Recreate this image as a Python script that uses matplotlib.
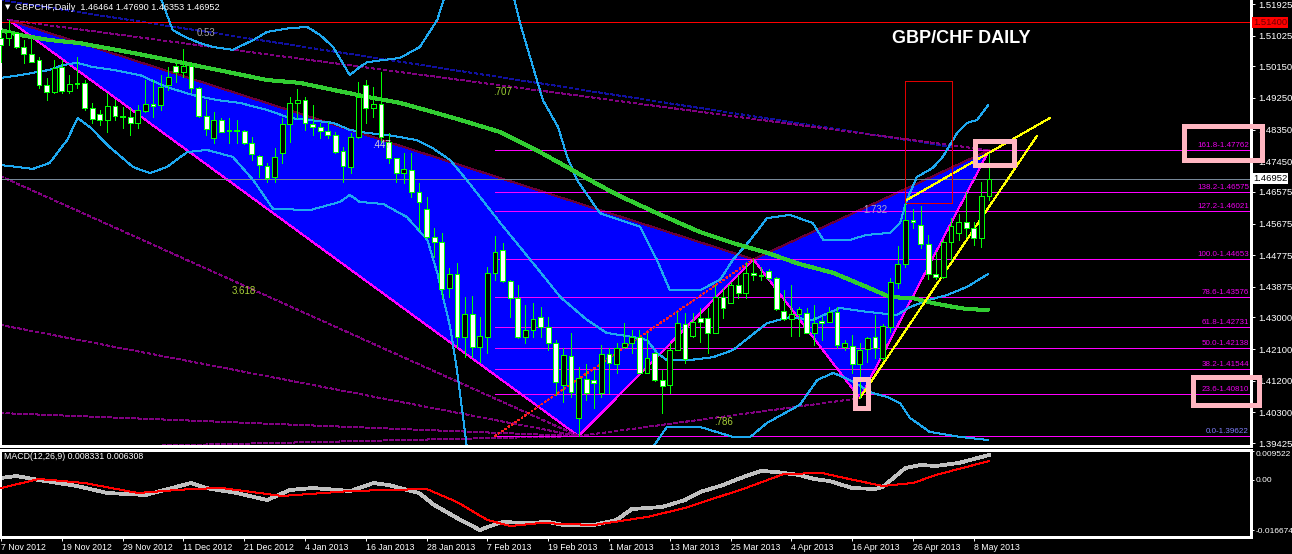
import numpy as np
import pandas as pd
import matplotlib
matplotlib.use("Agg")
import matplotlib.pyplot as plt
from matplotlib.patches import Polygon, Rectangle

plt.rcParams["font.family"] = ["Liberation Sans", "DejaVu Sans"]
plt.rcParams["lines.antialiased"] = False
plt.rcParams["patch.antialiased"] = False

# ---------------- data ----------------
symbol = "GBPCHF,Daily"
title = "GBP/CHF DAILY"
last_quote = [1.46464, 1.47690, 1.46353, 1.46952]

opens = [1.5096, 1.5096, 1.5110, 1.5070, 1.5050, 1.5033, 1.4962, 1.4942, 1.5013, 1.4945,
         1.4965, 1.4968, 1.4896, 1.4879, 1.4862, 1.4902, 1.4874, 1.4871, 1.4854, 1.4888,
         1.4908, 1.4905, 1.4962, 1.5016, 1.4999, 1.5016, 1.4953, 1.4874, 1.4811, 1.4862,
         1.4834, 1.4831, 1.4831, 1.4797, 1.4760, 1.4731, 1.4700, 1.4768, 1.4851, 1.4911,
         1.4919, 1.4851, 1.4842, 1.4831, 1.4820, 1.4774, 1.4728, 1.4814, 1.4962, 1.4896,
         1.4908, 1.4800, 1.4754, 1.4711, 1.4720, 1.4657, 1.4609, 1.4529, 1.4515, 1.4384,
         1.4424, 1.4244, 1.4310, 1.4216, 1.4244, 1.4427, 1.4492, 1.4404, 1.4355, 1.4244,
         1.4264, 1.4301, 1.4273, 1.4227, 1.4108, 1.4190, 1.4014, 1.4125, 1.4122, 1.4085,
         1.4196, 1.4167, 1.4216, 1.4227, 1.4244, 1.4142, 1.4199, 1.4122, 1.4108, 1.4207,
         1.4281, 1.4247, 1.4298, 1.4298, 1.4256, 1.4358, 1.4341, 1.4392, 1.4370, 1.4427,
         1.4421, 1.4432, 1.4412, 1.4319, 1.4296, 1.4310, 1.4313, 1.4256, 1.4290, 1.4287,
         1.4316, 1.4216, 1.4219, 1.4167, 1.4210, 1.4244, 1.4184, 1.4273, 1.4398, 1.4452,
         1.4577, 1.4563, 1.4509, 1.4424, 1.4415, 1.4515, 1.4541, 1.4572, 1.4555, 1.4526,
         1.46464]
highs = [1.5118, 1.5147, 1.5113, 1.5090, 1.5096, 1.5042, 1.4982, 1.5033, 1.5033, 1.4990,
         1.5042, 1.4976, 1.4911, 1.4891, 1.4939, 1.4919, 1.4899, 1.4896, 1.4905, 1.4976,
         1.4976, 1.4990, 1.5013, 1.5027, 1.5064, 1.5025, 1.4956, 1.4919, 1.4885, 1.4868,
         1.4868, 1.4862, 1.4834, 1.4814, 1.4762, 1.4740, 1.4782, 1.4868, 1.4928, 1.4951,
         1.4928, 1.4905, 1.4854, 1.4856, 1.4828, 1.4785, 1.4825, 1.4970, 1.4976, 1.4956,
         1.4999, 1.4825, 1.4754, 1.4768, 1.4768, 1.4683, 1.4643, 1.4555, 1.4541, 1.4441,
         1.4455, 1.4358, 1.4361, 1.4301, 1.4444, 1.4532, 1.4512, 1.4407, 1.4392, 1.4335,
         1.4341, 1.4330, 1.4301, 1.4236, 1.4213, 1.4256, 1.4159, 1.4167, 1.4150, 1.4222,
         1.4213, 1.4227, 1.4284, 1.4264, 1.4264, 1.4256, 1.4202, 1.4150, 1.4227, 1.4316,
         1.4313, 1.4313, 1.4327, 1.4327, 1.4392, 1.4384, 1.4401, 1.4421, 1.4458, 1.44653,
         1.4444, 1.4438, 1.4415, 1.4378, 1.4392, 1.4330, 1.4327, 1.4335, 1.4301, 1.4330,
         1.4330, 1.4236, 1.4250, 1.4227, 1.4244, 1.4307, 1.4281, 1.4412, 1.4503, 1.4626,
         1.4609, 1.4617, 1.4535, 1.4486, 1.4521, 1.4583, 1.4595, 1.4657, 1.4572, 1.4686,
         1.47690]
lows = [1.5027, 1.5076, 1.5067, 1.5025, 1.5027, 1.4953, 1.4919, 1.4939, 1.4939, 1.4939,
        1.4953, 1.4891, 1.4854, 1.4848, 1.4828, 1.4862, 1.4839, 1.4820, 1.4839, 1.4885,
        1.4871, 1.4891, 1.4948, 1.4970, 1.4985, 1.4942, 1.4871, 1.4820, 1.4797, 1.4828,
        1.4797, 1.4797, 1.4794, 1.4748, 1.4700, 1.4686, 1.4686, 1.4740, 1.4800, 1.4868,
        1.4834, 1.4820, 1.4811, 1.4811, 1.4768, 1.4686, 1.4711, 1.4811, 1.4854, 1.4871,
        1.4797, 1.4740, 1.4686, 1.4683, 1.4643, 1.4549, 1.4526, 1.4472, 1.4355, 1.4358,
        1.4216, 1.4187, 1.4187, 1.4173, 1.4199, 1.4407, 1.4401, 1.4301, 1.4241, 1.4227,
        1.4244, 1.4244, 1.4207, 1.4079, 1.4059, 1.4074, 1.39622, 1.4065, 1.4042, 1.4074,
        1.4085, 1.4142, 1.4213, 1.4199, 1.4142, 1.4142, 1.4119, 1.4028, 1.4085, 1.4207,
        1.4170, 1.4244, 1.4230, 1.4199, 1.4256, 1.4298, 1.4341, 1.4355, 1.4355, 1.4407,
        1.4407, 1.4407, 1.4321, 1.4293, 1.4247, 1.4247, 1.4256, 1.4222, 1.4236, 1.4287,
        1.4213, 1.4207, 1.4142, 1.4070, 1.4173, 1.4184, 1.4179, 1.4259, 1.4384, 1.4444,
        1.4555, 1.4498, 1.4410, 1.4410, 1.4412, 1.4464, 1.4521, 1.4529, 1.4506, 1.4500,
        1.46353]
closes = [1.5076, 1.5113, 1.5070, 1.5050, 1.5027, 1.4962, 1.4942, 1.5010, 1.4945, 1.4965,
          1.4968, 1.4896, 1.4865, 1.4862, 1.4902, 1.4874, 1.4871, 1.4854, 1.4891, 1.4908,
          1.4902, 1.4956, 1.4985, 1.4999, 1.5016, 1.4953, 1.4874, 1.4837, 1.4862, 1.4828,
          1.4831, 1.4834, 1.4797, 1.4765, 1.4734, 1.4697, 1.4757, 1.4851, 1.4911, 1.4919,
          1.4854, 1.4842, 1.4831, 1.4820, 1.4771, 1.4731, 1.4814, 1.4928, 1.4896, 1.4908,
          1.4814, 1.4754, 1.4711, 1.4723, 1.4657, 1.4629, 1.4529, 1.4515, 1.4381, 1.4424,
          1.4244, 1.4310, 1.4216, 1.4247, 1.4427, 1.4486, 1.4404, 1.4355, 1.4244, 1.4264,
          1.4296, 1.4273, 1.4227, 1.4116, 1.4193, 1.4088, 1.4128, 1.4085, 1.4113, 1.4196,
          1.4170, 1.4213, 1.4227, 1.4244, 1.4142, 1.4184, 1.4122, 1.4105, 1.4207, 1.4284,
          1.4182, 1.4287, 1.4287, 1.4256, 1.4358, 1.4327, 1.4392, 1.4370, 1.4427, 1.4421,
          1.4419, 1.4412, 1.4324, 1.4296, 1.4310, 1.4324, 1.4256, 1.4284, 1.4284, 1.4316,
          1.4222, 1.4227, 1.4167, 1.4207, 1.4241, 1.4213, 1.4276, 1.4401, 1.4452, 1.4577,
          1.4572, 1.4509, 1.4424, 1.4415, 1.4515, 1.4560, 1.4572, 1.4555, 1.4526, 1.4646,
          1.46952]

# Bollinger bands (20) read at bar positions; NaN where the band leaves the window
bb_up_bar = [20.9, 22.6, 24.5, 26.2, 27.9, 30.5, 33.2, 35.0, 38.0, 40.3, 42.0, 43.7, 45.9, 47.2,
             48.2, 52.5, 55.1, 57.4, 58.4, 63.0, 67.4, 68.3, 70.0, 71.3, 73.3, 74.5, 75.8, 78.8,
             84.1, 86.3, 88.0, 92.0, 94.6, 96.3, 98.6, 100.8, 103.8, 106.8, 108.2, 111.7, 113.9,
             117.0, 118.3, 119.2, 120.5, 122.6, 123.9, 125.8, 127.1, 128.4, 129.9]
bb_up_val = [1.5216, 1.5118, 1.5096, 1.5081, 1.5070, 1.5062, 1.5090, 1.5113, 1.5124, 1.5127,
             1.5104, 1.5070, 1.4990, 1.5013, 1.5027, 1.5039, 1.5070, 1.5147, 1.5216, np.nan,
             1.5216, 1.5138, 1.5013, 1.4919, 1.4842, 1.4757, 1.4691, 1.4597, 1.4558, 1.4464,
             1.4378, 1.4378, 1.4407, 1.4464, 1.4521, 1.4583, 1.4592, 1.4569, 1.4521, 1.4521,
             1.4535, 1.4541, 1.4569, 1.4635, 1.4700, 1.4726, 1.4757, 1.4825, 1.4854, 1.4862,
             1.4905]
bb_mid_bar = [0.0, 2.5, 6.4, 8.2, 10.0, 12.1, 14.7, 18.3, 21.8, 25.3, 28.4, 31.4, 35.0, 38.0,
              40.7, 43.7, 45.9, 48.2, 50.8, 54.7, 56.8, 59.1, 61.3, 65.7, 70.0, 73.6, 77.1, 79.7,
              83.2, 85.0, 86.3, 87.6, 90.7, 93.7, 96.3, 100.8, 103.8, 106.8, 110.4, 113.9, 117.9,
              119.6, 122.6, 124.5, 127.1, 129.9]
bb_mid_val = [1.4982, 1.4990, 1.5005, 1.5019, 1.5025, 1.5013, 1.5005, 1.4990, 1.4956, 1.4933,
              1.4919, 1.4911, 1.4891, 1.4868, 1.4862, 1.4854, 1.4834, 1.4825, 1.4820, 1.4805,
              1.4782, 1.4748, 1.4691, 1.4569, 1.4455, 1.4358, 1.4293, 1.4256, 1.4244, 1.4236,
              1.4199, 1.4179, 1.4179, 1.4187, 1.4207, 1.4284, 1.4301, 1.4293, 1.4327, 1.4316,
              1.4307, 1.4330, 1.4353, 1.4364, 1.4387, 1.4424]
bb_low_bar = [0.0, 4.2, 6.4, 8.7, 10.1, 11.7, 14.3, 17.4, 19.6, 21.8, 24.5, 27.1, 30.5, 33.2,
              35.8, 40.7, 44.6, 45.9, 47.2, 50.3, 53.4, 56.1, 57.4, 59.1, 60.0, 61.3, 62.0, 74.0,
              85.4, 85.8, 87.6, 92.0, 96.3, 98.6, 100.8, 105.1, 107.4, 109.5, 111.7, 114.6, 116.6,
              118.3, 119.6, 122.2, 126.2, 129.9]
bb_low_val = [1.4734, 1.4723, 1.4740, 1.4805, 1.4868, 1.4842, 1.4785, 1.4728, 1.4711, 1.4728,
              1.4771, 1.4777, 1.4757, 1.4691, 1.4609, 1.4606, 1.4629, 1.4649, 1.4629, 1.4623,
              1.4586, 1.4521, 1.4427, 1.4273, 1.4150, 1.3931, 1.3900, np.nan, 1.3900, 1.3931,
              1.3988, 1.3988, 1.3960, 1.3960, 1.4000, 1.4051, 1.4122, 1.4142, 1.4122, 1.4085,
              1.4074, 1.4056, 1.4014, 1.3974, 1.3960, 1.3951]

# long moving average
ma_bar = [0.0, 2.5, 6.4, 10.4, 17.4, 23.9, 30.5, 35.0, 39.3, 43.7, 48.2, 52.5, 56.8, 59.1,
          65.7, 68.3, 70.9, 74.5, 77.5, 81.1, 86.3, 92.0, 96.3, 100.8, 105.1, 109.5, 113.9,
          117.0, 120.0, 122.6, 125.3, 127.1, 130.0]
ma_val = [1.5118, 1.5104, 1.5090, 1.5081, 1.5053, 1.5025, 1.4996, 1.4976, 1.4968, 1.4948,
          1.4928, 1.4911, 1.4885, 1.4871, 1.4828, 1.4800, 1.4771, 1.4728, 1.4691, 1.4649,
          1.4597, 1.4543, 1.4512, 1.4484, 1.4452, 1.4427, 1.4387, 1.4358, 1.4355, 1.4341,
          1.4330, 1.4324, 1.4321]

# MACD(12,26,9)
macd_bar = [0, 2, 5, 10, 14, 19, 23, 25, 27, 31, 35, 38, 41, 46, 49, 51, 55, 57, 60, 63, 64,
            66, 69, 72, 74, 78, 81, 83, 87, 90, 92, 95, 98, 100, 102, 105, 107, 109, 112, 115,
            116, 119, 121, 123, 126, 128, 130]
macd_val = [0.00067, 0.00133, 0.0, -0.0020, -0.00433, -0.0050, -0.00233, -0.0010, -0.00267,
            -0.00433, -0.00667, -0.00333, -0.00267, -0.00367, -0.0010, -0.00167, -0.00433,
            -0.00833, -0.01267, -0.01667, -0.01567, -0.0140, -0.01433, -0.0140, -0.0150,
            -0.0150, -0.01333, -0.00967, -0.0090, -0.00667, -0.0040, -0.00167, 0.00133,
            0.0030, 0.00267, 0.00167, 0.00033, -0.00033, -0.00267, -0.0030, -0.00233, 0.0040,
            0.0050, 0.00467, 0.00567, 0.0070, 0.008331]
signal_bar = [0, 5, 11, 18, 25, 29, 37, 46, 56, 60, 64, 67, 71, 78, 85, 90, 98, 103, 108,
              111, 116, 120, 123, 127, 130]
signal_val = [-0.00267, 0.00033, -0.0010, -0.00433, -0.0030, -0.00267, -0.00533, -0.00367,
              -0.0030, -0.00733, -0.01333, -0.01533, -0.01433, -0.0150, -0.01233, -0.00933,
              -0.00267, 0.0020, 0.00233, 0.00067, -0.0020, -0.0010, 0.00167, 0.00433, 0.006308]
macd_scale = [0.009522, 0.0, -0.016674]

# harmonic pattern X, A, B, C, D
pattern_bar = [1, 76, 99, 113, 130]
pattern_price = [1.5147, 1.39622, 1.44653, 1.4070, 1.47762]

# Fibonacci levels (anchored from bar 65 low to bar 99 high)
fib_ratio = ["0.0", "23.6", "38.2", "50.0", "61.8", "78.6", "100.0", "127.2", "138.2", "161.8"]
fib_price = [1.39622, 1.40810, 1.41544, 1.42138, 1.42731, 1.43576, 1.44653, 1.46021,
             1.46575, 1.47762]
fib_anchor_bar = 65

resistance = 1.51400

price_ticks = [1.51925, 1.51025, 1.50150, 1.49250, 1.48350, 1.47450, 1.46575, 1.45675,
               1.44775, 1.43875, 1.43000, 1.42100, 1.41200, 1.40300, 1.39425]

dates = pd.bdate_range("2012-11-07", "2013-05-10", freq="C",
                       holidays=["2012-12-25", "2013-01-01"])
bars = np.arange(len(dates))

# ---------------- figure ----------------
W, H = 1292, 554
fig = plt.figure(figsize=(W / 100, H / 100), dpi=100, facecolor="black")


def box(x0, y0, x1, y1):
    return [x0 / W, 1 - y1 / H, (x1 - x0) / W, (y1 - y0) / H]


ax = fig.add_axes(box(0, 0, 1251, 446), facecolor="black")
mac = fig.add_axes(box(0, 450, 1251, 537), facecolor="black")

XMIN, XMAX = -0.13, 164.47
ax.set_xlim(XMIN, XMAX)
mac.set_xlim(XMIN, XMAX)
ax.set_ylim(1.39340, 1.52039)
mac.set_ylim(-0.0190, 0.0100)

LW1 = 0.72  # one device pixel
PINK = "#ffb6c1"
FIBC = "#ff00ff"
BAND = "#1ea8f0"

# pattern triangles (background)
X, A, B, C, D = list(zip(pattern_bar, pattern_price))
ax.add_patch(Polygon([X, A, B], closed=True, facecolor="#0000ff", edgecolor="none", zorder=0.5))
ax.add_patch(Polygon([B, C, D], closed=True, facecolor="#0000ff", edgecolor="none", zorder=0.5))
ax.plot(pattern_bar, pattern_price, color="#ff00ff", lw=LW1, zorder=0.7)
ax.plot([X[0], B[0]], [X[1], B[1]], color="#6a0038", lw=LW1, zorder=0.7)
ax.plot([B[0], D[0]], [B[1], D[1]], color="#6a0038", lw=LW1, zorder=0.7)

# ratio lines of the pattern
dash = (0, (4, 2.5))
ax.plot([XMIN, 125.3], [1.5204, 1.4785], color="#1010a0", lw=LW1, ls=dash, zorder=0.8)
ax.plot([X[0], D[0]], [X[1], D[1]], color="#800080", lw=LW1, ls=dash, zorder=0.8)
for start in (1.4703, 1.4279, 1.4028, 1.3925):
    ax.plot([XMIN, A[0]], [start, A[1]], color="#800080", lw=LW1, ls=dash, zorder=0.8)
ax.plot([A[0], C[0]], [A[1], C[1]], color="#800080", lw=LW1, ls=dash, zorder=0.8)

ratio_labels = [("0.53", 27.0, 1.5110, "#a0a0a0"), (".707", 66.0, 1.4941, "#9acd32"),
                (".447", 50.0, 1.4790, "#d8d8d8"), ("3.618", 32.0, 1.4374, "#a8cf38"),
                (".786", 95.1, 1.4001, "#a8cf38"), ("1.732", 115.0, 1.4605, "#a8a8c8")]
for txt, bx, py, col in ratio_labels:
    ax.text(bx, py, txt, color=col, fontsize=7, ha="center", va="center", zorder=6)

# Fibonacci levels
for r, p in zip(fib_ratio, fib_price):
    ax.hlines(p, fib_anchor_bar, XMAX, color=FIBC, lw=LW1, zorder=1)
    ax.text(164.2, p + 0.0003, f"{r}-{p:.5f}", color="#8080ff" if r == "0.0" else "#ee00ee",
            fontsize=5.8, ha="right", va="bottom", zorder=6)
ax.plot([fib_anchor_bar, B[0]], [fib_price[0], fib_price[6]], color="#ff2020", lw=0.9,
        ls=(0, (1.2, 1.8)), zorder=1)

# horizontal levels
ax.axhline(resistance, color="#ff0000", lw=LW1, zorder=1)
ax.axhline(last_quote[3], color="#778899", lw=LW1, zorder=1)

# indicators
ax.plot(bb_up_bar, bb_up_val, color=BAND, lw=LW1, zorder=2)
ax.plot(bb_mid_bar, bb_mid_val, color=BAND, lw=LW1, zorder=2)
ax.plot(bb_low_bar, bb_low_val, color=BAND, lw=LW1, zorder=2)
ax.plot(ma_bar, ma_val, color="#32cd32", lw=2.2, zorder=2, solid_capstyle="butt")

# trend lines from C
ax.plot([C[0], 136.3], [C[1], 1.4817], color="#ffff00", lw=LW1, zorder=2.5)
ax.plot([119.2, 138.0], [1.4635, 1.4868], color="#ffff00", lw=LW1, zorder=2.5)

# candlesticks
o = np.array(opens); h = np.array(highs); l = np.array(lows); c = np.array(closes)
bull = c >= o
ax.vlines(bars, l, h, color="#00ff00", lw=LW1, zorder=3)
body_lo = np.minimum(o, c)
body_h = np.maximum(np.abs(c - o), 0.00008)
ax.bar(bars, body_h, bottom=body_lo, width=0.62,
       color=np.where(bull, "black", "white"), edgecolor="#00ff00", linewidth=LW1, zorder=4)

# highlight boxes
ax.add_patch(Rectangle((118.9, 1.4626), 6.2, 0.0347, fill=False, edgecolor="#e00000",
                       lw=LW1, zorder=2.6))
ax.add_patch(Rectangle((128.2, 1.4734), 5.1, 0.0068, fill=False, edgecolor=PINK, lw=2.2, zorder=5))
ax.add_patch(Rectangle((112.4, 1.4042), 1.7, 0.0083, fill=False, edgecolor=PINK, lw=2.2, zorder=5))
ax.add_patch(Rectangle((155.7, 1.4748), 10.2, 0.0097, fill=False, edgecolor=PINK, lw=2.2,
                       zorder=7, clip_on=False))
ax.add_patch(Rectangle((156.8, 1.4051), 8.7, 0.0079, fill=False, edgecolor=PINK, lw=2.2,
                       zorder=7, clip_on=False))

# axes styling
for a in (ax, mac):
    a.set_facecolor("black")
    for s in a.spines.values():
        s.set_color("white")
        s.set_linewidth(0.8)
ax.spines["top"].set_visible(False)

ax.set_yticks(price_ticks)
ax.set_yticklabels([f"{p:.5f}" for p in price_ticks])
ax.tick_params(axis="y", left=False, labelleft=False, right=True, labelright=True,
               colors="white", length=3, width=0.7, labelsize=6.8, pad=2)
ax.tick_params(axis="x", bottom=False, labelbottom=False)

ytr = ax.get_yaxis_transform()
ax.text(1.0015, resistance, f"{resistance:.5f}", transform=ytr, color="#700000", fontsize=6.8,
        ha="left", va="center", zorder=8, clip_on=False,
        bbox=dict(boxstyle="square,pad=0.12", facecolor="#ff0000", edgecolor="none"))
ax.text(1.0015, last_quote[3], f"{last_quote[3]:.5f}", transform=ytr, color="black",
        fontsize=6.8, ha="left", va="center", zorder=8, clip_on=False,
        bbox=dict(boxstyle="square,pad=0.12", facecolor="white", edgecolor="none"))

# MACD panel
mac.plot(macd_bar, macd_val, color="#c0c0c0", lw=2.0, zorder=2)
mac.plot(signal_bar, signal_val, color="#ff0000", lw=LW1, zorder=3)
mac.set_yticks(macd_scale)
mac.set_yticklabels(["0.009522", "0.00", "-0.016674"])
mac.tick_params(axis="y", left=False, labelleft=False, right=True, labelright=True,
                colors="white", length=2, width=0.7, labelsize=6.0, pad=1)
mac.get_yticklabels()[0].set_va("top")
tick_pos = bars[::8]
mac.set_xticks(tick_pos)
mac.set_xticklabels([f"{d.day} {d.strftime('%b %Y')}" for d in dates[::8]])
mac.tick_params(axis="x", colors="white", length=3, width=0.7, labelsize=6.3, pad=1.5,
                direction="out")
for lbl in mac.get_xticklabels():
    lbl.set_ha("left")
mac.text(4 / 1251, 0.92, f"MACD(12,26,9) {macd_val[-1]:.6f} {signal_val[-1]:.6f}",
         transform=mac.transAxes, color="white", fontsize=6.3, ha="left", va="center")

# header and title
fig.text(5 / W, 1 - 7 / H, "\u25bc", color="white", fontsize=5, ha="left", va="center",
         family="DejaVu Sans")
fig.text(15 / W, 1 - 7 / H,
         f"{symbol}  " + " ".join(f"{v:.5f}" for v in last_quote),
         color="white", fontsize=6.6, ha="left", va="center")
fig.text(892 / W, 1 - 38.5 / H, title, color="white", fontsize=13, fontweight="bold",
         ha="left", va="center")

fig.savefig("out.png", dpi=100, facecolor="black")
